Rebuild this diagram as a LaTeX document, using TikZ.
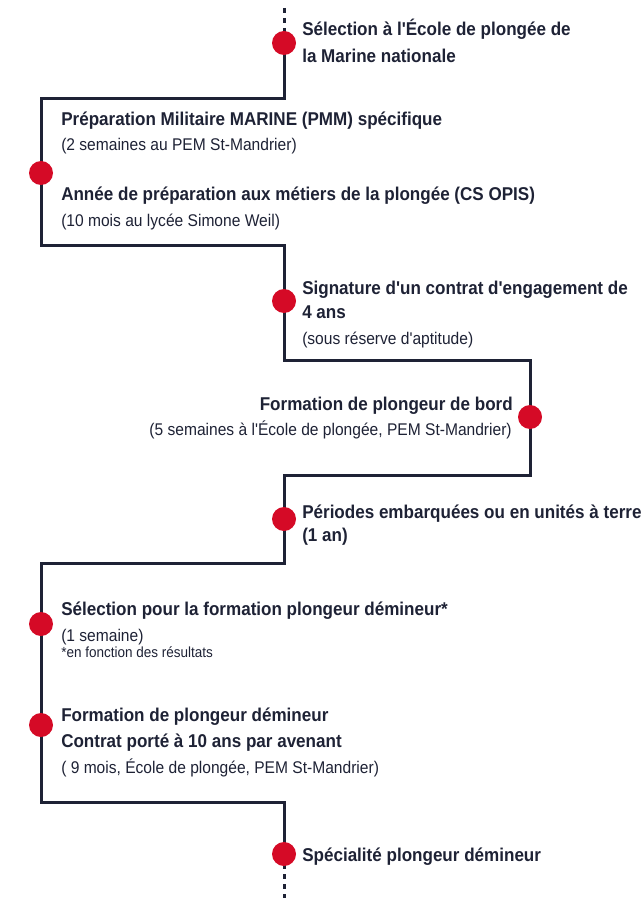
\documentclass[tikz,border=0pt]{standalone}
\usepackage{fontspec}
\setmainfont{Liberation Sans}[FakeStretch=0.92,Ligatures=TeXOff]
\usetikzlibrary{calc}
\definecolor{navy}{HTML}{1E2235}
\definecolor{marine}{HTML}{D50A26}
\tikzset{>=latex,
  ligne/.style={navy,line width=2.25pt},
  pointille/.style={navy,line width=2.25pt,dash pattern=on 4pt off 3.5pt},
  jalon/.style={circle,fill=marine,inner sep=0pt,minimum size=18pt},
  titre/.style={anchor=base west,inner sep=0pt,text=navy,
    font=\bfseries\fontsize{13.9}{16}\selectfont},
  detail/.style={anchor=base west,inner sep=0pt,text=navy,
    font=\fontsize{12.7}{14}\selectfont},
  note/.style={anchor=base west,inner sep=0pt,text=navy,
    font=\fontsize{11}{12}\selectfont}
}

\begin{document}
\begin{tikzpicture}[x=0.75pt,y=-0.75pt]
  \useasboundingbox (0,0) rectangle (640,898);
  % points of the timeline
  \coordinate (p1) at (284,43);
  \coordinate (p2) at (41,173);
  \coordinate (p3) at (284,301);
  \coordinate (p4) at (530,417);
  \coordinate (p5) at (284,519);
  \coordinate (p6) at (41,624);
  \coordinate (p7) at (41,725);
  \coordinate (p8) at (284,854);
  \coordinate (c1) at (284,99);
  \coordinate (c2) at (284,246);
  \coordinate (c3) at (530,360);
  \coordinate (c4) at (284,475);
  \coordinate (c5) at (41,563);
  \coordinate (c6) at (284,802);
  \coordinate (haut) at (284,8);
  \coordinate (bas) at (284,898);

  \draw[pointille] (haut) -- (p1);
  \draw[pointille] (p8) -- (bas);
  \draw[ligne] (p1) -- (c1) -| (p2) |- (c2) -- (p3) |- (c3) -- (p4)
    |- (c4) -- (p5) |- (c5) -- (p6) -- (p7) |- (c6) -- (p8);

  \foreach \i in {1,...,8}
    \node[jalon] (d\i) at (p\i) {};

  % texts
  \node[titre] (t1a) at (302,36) {Sélection à l'École de plongée de};
  \node[titre] (t1b) at (302,63) {la Marine nationale};

  \node[titre] (t2a) at (61,126) {Préparation Militaire MARINE (PMM) spécifique};
  \node[detail] (t2b) at (61,151) {(2 semaines au PEM St-Mandrier)};
  \node[titre] (t2c) at (61,201) {Année de préparation aux métiers de la plongée (CS OPIS)};
  \node[detail] (t2d) at (61,227) {(10 mois au lycée Simone Weil)};

  \node[titre] (t3a) at (302,295) {Signature d'un contrat d'engagement de};
  \node[titre] (t3b) at (302,318) {4 ans};
  \node[detail] (t3c) at (302,344) {(sous réserve d'aptitude)};

  \node[titre,anchor=base east] (t4a) at (513,410) {Formation de plongeur de bord};
  \node[detail,anchor=base east] (t4b) at (512,435) {(5 semaines à l'École de plongée, PEM St-Mandrier)};

  \node[titre] (t5a) at (302,518) {Périodes embarquées ou en unités à terre};
  \node[titre] (t5b) at (302,541) {(1 an)};

  \node[titre] (t6a) at (61,615) {Sélection pour la formation plongeur démineur*};
  \node[detail] (t6b) at (61,641) {(1 semaine)};
  \node[note] (t6c) at (61,657) {*en fonction des résultats};

  \node[titre] (t7a) at (61,721) {Formation de plongeur démineur};
  \node[titre] (t7b) at (61,747) {Contrat porté à 10 ans par avenant};
  \node[detail] (t7c) at (61,773) {( 9 mois, École de plongée, PEM St-Mandrier)};

  \node[titre] (t8a) at (302,861) {Spécialité plongeur démineur};
\end{tikzpicture}
\end{document}
